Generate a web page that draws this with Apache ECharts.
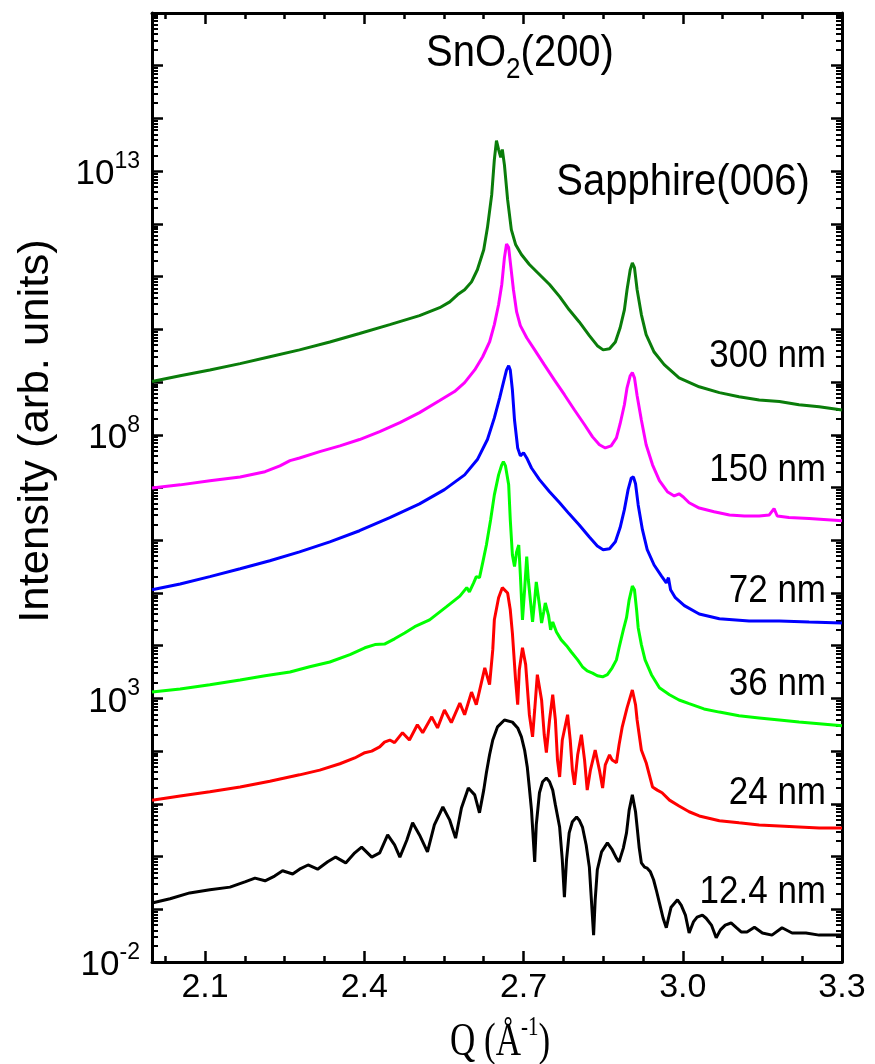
<!DOCTYPE html>
<html><head><meta charset="utf-8">
<script src="https://cdn.jsdelivr.net/npm/echarts@6/dist/echarts.min.js"></script>
<style>html,body{margin:0;padding:0;background:#fff}#c{width:875px;height:1064px}</style>
</head><body><div id="c"></div><script>
// ---- data (Q in 1/Angstrom, intensity given as log10 of arb. units) ----
var Q_300nm = [2.000,2.053,2.109,2.166,2.222,2.278,2.335,2.391,2.448,2.504,2.542,2.561,2.576,2.589,2.602,2.613,2.625,2.632,2.640,2.645,2.649,2.653,2.657,2.660,2.664,2.670,2.677,2.685,2.696,2.711,2.730,2.749,2.768,2.786,2.805,2.824,2.839,2.850,2.862,2.873,2.882,2.890,2.895,2.901,2.905,2.909,2.914,2.922,2.931,2.946,2.965,2.993,3.031,3.069,3.106,3.144,3.182,3.219,3.257,3.300];
var logI_300nm = [9.01,9.12,9.23,9.35,9.48,9.61,9.76,9.92,10.09,10.26,10.41,10.52,10.66,10.75,10.90,11.13,11.51,11.93,12.55,13.22,13.58,13.41,13.26,13.41,13.12,12.46,11.89,11.61,11.42,11.23,11.04,10.85,10.62,10.37,10.14,9.88,9.69,9.61,9.63,9.76,10.03,10.37,10.75,11.13,11.26,11.17,10.75,10.28,9.90,9.57,9.33,9.08,8.91,8.80,8.72,8.66,8.63,8.57,8.53,8.47];

var Q_150nm = [2.000,2.053,2.109,2.166,2.213,2.241,2.260,2.278,2.316,2.354,2.391,2.429,2.467,2.504,2.542,2.570,2.589,2.608,2.623,2.636,2.645,2.653,2.659,2.664,2.668,2.672,2.675,2.681,2.687,2.694,2.706,2.721,2.739,2.758,2.777,2.796,2.815,2.830,2.843,2.854,2.865,2.875,2.882,2.890,2.895,2.901,2.905,2.909,2.914,2.922,2.931,2.943,2.956,2.971,2.984,2.993,3.001,3.012,3.031,3.059,3.088,3.116,3.144,3.163,3.172,3.178,3.200,3.238,3.300];
var logI_150nm = [6.99,7.05,7.13,7.20,7.30,7.41,7.51,7.56,7.68,7.79,7.91,8.06,8.23,8.42,8.65,8.82,8.99,9.23,9.48,9.76,10.09,10.47,10.85,11.36,11.62,11.55,11.28,10.75,10.33,10.07,9.84,9.61,9.33,9.04,8.76,8.47,8.19,7.96,7.81,7.75,7.79,7.94,8.21,8.57,8.89,9.12,9.18,9.08,8.74,8.28,7.81,7.43,7.13,6.92,6.84,6.88,6.82,6.71,6.61,6.54,6.48,6.46,6.46,6.48,6.60,6.46,6.43,6.41,6.37];

var Q_72nm = [2.000,2.053,2.109,2.166,2.222,2.278,2.335,2.391,2.448,2.504,2.551,2.589,2.613,2.632,2.645,2.655,2.662,2.668,2.672,2.675,2.679,2.683,2.689,2.694,2.700,2.706,2.715,2.730,2.749,2.768,2.786,2.805,2.824,2.839,2.850,2.862,2.873,2.882,2.890,2.897,2.903,2.907,2.911,2.916,2.924,2.933,2.946,2.960,2.969,2.973,2.977,2.986,3.003,3.031,3.069,3.125,3.182,3.238,3.300];
var logI_72nm = [5.06,5.17,5.31,5.46,5.61,5.78,5.97,6.18,6.43,6.69,6.96,7.24,7.53,7.91,8.32,8.70,8.99,9.23,9.31,9.23,8.85,8.28,7.75,7.60,7.66,7.56,7.37,7.15,6.92,6.71,6.50,6.29,6.06,5.89,5.82,5.84,5.97,6.24,6.58,6.96,7.18,7.20,7.07,6.67,6.20,5.82,5.53,5.32,5.19,5.29,5.06,4.91,4.76,4.60,4.51,4.47,4.47,4.45,4.43];

var Q_36nm = [2.000,2.053,2.109,2.166,2.213,2.260,2.297,2.335,2.373,2.401,2.420,2.438,2.457,2.476,2.495,2.523,2.555,2.580,2.593,2.598,2.606,2.611,2.617,2.623,2.630,2.638,2.645,2.653,2.659,2.662,2.666,2.672,2.675,2.679,2.683,2.687,2.691,2.694,2.698,2.702,2.706,2.709,2.717,2.721,2.724,2.730,2.734,2.738,2.741,2.747,2.751,2.755,2.762,2.771,2.781,2.790,2.802,2.811,2.820,2.830,2.839,2.849,2.858,2.867,2.875,2.880,2.888,2.894,2.899,2.905,2.909,2.913,2.916,2.922,2.929,2.941,2.956,2.975,2.993,3.012,3.040,3.069,3.106,3.144,3.182,3.219,3.257,3.300];
var logI_36nm = [3.12,3.18,3.26,3.35,3.43,3.50,3.60,3.69,3.83,3.96,4.02,4.03,4.13,4.24,4.36,4.49,4.74,4.94,5.10,5.02,5.19,5.31,5.29,5.57,5.91,6.39,6.86,7.24,7.43,7.49,7.41,7.05,6.39,5.72,5.50,5.78,5.91,5.34,4.49,5.06,5.69,5.25,4.45,4.87,5.21,4.77,4.43,4.64,4.81,4.58,4.30,4.45,4.26,4.11,4.00,3.88,3.73,3.60,3.52,3.48,3.43,3.41,3.45,3.58,3.73,3.96,4.30,4.53,4.87,5.13,5.06,4.68,4.34,4.02,3.73,3.45,3.20,3.07,2.97,2.90,2.80,2.74,2.67,2.63,2.59,2.55,2.52,2.48];

var Q_24nm = [2.000,2.053,2.109,2.166,2.222,2.278,2.316,2.354,2.382,2.401,2.414,2.429,2.438,2.448,2.457,2.472,2.485,2.500,2.510,2.527,2.538,2.551,2.564,2.580,2.589,2.602,2.611,2.627,2.636,2.642,2.645,2.653,2.660,2.670,2.675,2.679,2.685,2.689,2.692,2.698,2.704,2.711,2.717,2.721,2.726,2.734,2.739,2.743,2.749,2.755,2.760,2.764,2.768,2.773,2.783,2.788,2.792,2.796,2.802,2.809,2.815,2.820,2.826,2.835,2.843,2.849,2.854,2.862,2.867,2.875,2.880,2.886,2.895,2.905,2.911,2.914,2.922,2.931,2.937,2.943,2.952,2.961,2.975,2.993,3.012,3.031,3.069,3.106,3.144,3.182,3.219,3.257,3.300];
var logI_24nm = [1.07,1.15,1.23,1.32,1.43,1.55,1.64,1.76,1.87,1.97,2.00,2.08,2.17,2.21,2.16,2.35,2.21,2.50,2.35,2.65,2.44,2.78,2.54,2.91,2.69,3.12,2.88,3.58,3.26,3.92,4.49,4.91,5.10,5.00,4.68,4.24,3.35,2.88,3.54,3.96,3.64,2.69,2.27,2.78,3.45,2.97,2.31,1.97,2.59,3.07,2.59,1.83,1.51,2.21,2.69,2.21,1.64,1.36,1.93,2.31,1.83,1.26,1.64,2.02,1.64,1.30,1.74,1.93,1.83,1.78,2.12,2.46,2.82,3.16,2.88,2.59,2.02,1.78,1.55,1.32,1.26,1.21,1.07,0.96,0.85,0.77,0.68,0.64,0.60,0.58,0.56,0.54,0.54];

var Q_12nm = [2.000,2.034,2.071,2.109,2.147,2.175,2.194,2.213,2.231,2.246,2.265,2.278,2.294,2.312,2.331,2.346,2.365,2.382,2.395,2.414,2.429,2.444,2.457,2.467,2.480,2.491,2.504,2.519,2.532,2.548,2.561,2.572,2.583,2.596,2.608,2.617,2.625,2.630,2.636,2.642,2.651,2.664,2.679,2.689,2.696,2.702,2.707,2.711,2.715,2.721,2.724,2.730,2.736,2.743,2.749,2.755,2.760,2.768,2.773,2.777,2.781,2.786,2.792,2.800,2.805,2.811,2.818,2.824,2.832,2.835,2.839,2.847,2.858,2.867,2.875,2.880,2.888,2.894,2.899,2.905,2.911,2.914,2.918,2.922,2.928,2.933,2.939,2.945,2.950,2.956,2.963,2.969,2.973,2.978,2.990,2.997,3.005,3.012,3.020,3.027,3.037,3.044,3.054,3.063,3.071,3.080,3.091,3.101,3.110,3.121,3.135,3.150,3.168,3.187,3.206,3.232,3.257,3.300];
var logI_12nm = [-0.88,-0.80,-0.69,-0.63,-0.58,-0.48,-0.41,-0.46,-0.37,-0.27,-0.33,-0.24,-0.16,-0.24,-0.10,-0.01,-0.12,0.07,0.18,-0.01,0.07,0.41,0.22,-0.01,0.31,0.64,0.41,0.09,0.60,0.94,0.69,0.35,0.92,1.30,1.17,0.83,1.26,1.59,1.93,2.21,2.46,2.59,2.55,2.44,2.27,2.02,1.70,1.30,0.88,-0.10,0.60,1.21,1.42,1.49,1.42,1.26,0.98,0.56,-0.06,-0.77,-0.06,0.45,0.66,0.75,0.69,0.56,0.22,-0.20,-1.49,-0.82,-0.25,0.09,0.26,0.13,-0.03,-0.10,0.16,0.45,0.88,1.17,0.85,0.56,0.16,-0.12,-0.20,-0.22,-0.29,-0.44,-0.63,-0.88,-1.17,-1.35,-1.17,-0.96,-0.82,-0.92,-1.11,-1.45,-1.24,-1.15,-1.11,-1.17,-1.30,-1.54,-1.39,-1.30,-1.26,-1.35,-1.43,-1.43,-1.34,-1.45,-1.49,-1.35,-1.45,-1.45,-1.49,-1.49];

var seriesNames = ['300 nm','150 nm','72 nm','36 nm','24 nm','12.4 nm'];
var seriesColors = ['#0a7d0a','#ff00ff','#0000ff','#00ff00','#ff0000','#000000'];
var xMajorTicks = [2.1, 2.4, 2.7, 3.0, 3.3];
var xMinorTicks = [2.025, 2.175, 2.25, 2.325, 2.475, 2.55, 2.625, 2.775, 2.85, 2.925, 3.075, 3.15, 3.225];
var yLabelExponents = [-2, 3, 8, 13];

var Qs = [Q_300nm, Q_150nm, Q_72nm, Q_36nm, Q_24nm, Q_12nm];
var Ls = [logI_300nm, logI_150nm, logI_72nm, logI_36nm, logI_24nm, logI_12nm];

var chart = echarts.init(document.getElementById('c'), null, {renderer: 'canvas'});
var FONT = '"Liberation Sans", Arial, sans-serif';
var SERIF = '"Liberation Serif", "Times New Roman", serif';

function xAxisDef(pos, ticks, len, showLabel, showLine) {
  return {
    type: 'value', position: pos, min: 2.0, max: 3.3,
    axisLine: {show: showLine, onZero: false, lineStyle: {color: '#000', width: 3}},
    axisTick: {show: true, inside: true, length: len, customValues: ticks, lineStyle: {color: '#000', width: 2.5}},
    axisLabel: {show: showLabel, customValues: ticks, margin: 9, color: '#000', fontSize: 34, fontFamily: FONT,
      formatter: function (v) { return v.toFixed(1); }},
    splitLine: {show: false}
  };
}
function yAxisDef(pos, showLabel) {
  return {
    type: 'log', logBase: 10, position: pos, min: 1e-2, max: 1e16, interval: 1,
    axisLine: {show: true, onZero: false, lineStyle: {color: '#000', width: 3}},
    axisTick: {show: true, inside: true, length: 11, lineStyle: {color: '#000', width: 2.5}},
    minorTick: {show: true, splitNumber: 9, length: 6, lineStyle: {color: '#000', width: 2}},
    axisLabel: {show: showLabel, margin: 12, color: '#000', fontFamily: FONT,
      formatter: function (v) {
        var e = Math.round(Math.log10(v));
        if (yLabelExponents.indexOf(e) < 0) return '';
        return '{b|10}{s|' + e + '}';
      },
      rich: {
        b: {fontSize: 35, fontFamily: FONT, color: '#000', lineHeight: 42, verticalAlign: 'bottom'},
        s: {fontSize: 23, fontFamily: FONT, color: '#000', lineHeight: 24, verticalAlign: 'top'}
      }},
    splitLine: {show: false}
  };
}

var series = Qs.map(function (q, k) {
  return {
    name: seriesNames[k], type: 'line', xAxisIndex: 0, yAxisIndex: 0,
    showSymbol: false, symbol: 'none', smooth: false, clip: true,
    lineStyle: {color: seriesColors[k], width: 3},
    data: q.map(function (x, i) { return [x, Math.pow(10, Ls[k][i])]; })
  };
});

function label(text, x, y, size) {
  return {type: 'text', x: x, y: y, scaleY: 1.12,
    style: {text: text, font: size + 'px ' + FONT, fill: '#000', textAlign: 'right', textVerticalAlign: 'middle'}};
}

var option = {
  animation: false,
  backgroundColor: '#fff',
  grid: {left: 152, right: 33, top: 13, bottom: 102, containLabel: false},
  xAxis: [
    xAxisDef('bottom', xMajorTicks, 11, true, true),
    xAxisDef('top', xMajorTicks, 11, false, true),
    xAxisDef('bottom', xMinorTicks, 6, false, false),
    xAxisDef('top', xMinorTicks, 6, false, false)
  ],
  yAxis: [yAxisDef('left', true), yAxisDef('right', false)],
  series: series,
  graphic: [
    {type: 'text', x: 36, y: 431, rotation: Math.PI / 2, scaleX: 1.04,
      style: {text: 'Intensity (arb. units)', font: '42px ' + FONT, fill: '#000', textAlign: 'center', textVerticalAlign: 'middle'}},
    {type: 'text', x: 500, y: 1040, scaleY: 1.3,
      style: {text: '{n|Q (Å}{s|-1}{n|)}', fill: '#000', textAlign: 'center', textVerticalAlign: 'middle',
        rich: {n: {fontSize: 35, fontFamily: SERIF, lineHeight: 40, verticalAlign: 'bottom'},
               s: {fontSize: 21, fontFamily: SERIF, lineHeight: 22, verticalAlign: 'top'}}}},
    {type: 'text', x: 520, y: 58, scaleY: 1.1,
      style: {text: '{n|SnO}{d|2}{n|(200)}', fill: '#000', textAlign: 'center', textVerticalAlign: 'middle',
        rich: {n: {fontSize: 40, fontFamily: FONT, lineHeight: 48, verticalAlign: 'top'},
               d: {fontSize: 26, fontFamily: FONT, lineHeight: 28, verticalAlign: 'bottom'}}}},
    {type: 'text', x: 683, y: 183, scaleY: 1.1,
      style: {text: 'Sapphire(006)', font: '40px ' + FONT, fill: '#000', textAlign: 'center', textVerticalAlign: 'middle'}},
    label(seriesNames[0], 826, 356, 35),
    label(seriesNames[1], 826, 470, 35),
    label(seriesNames[2], 826, 591, 35),
    label(seriesNames[3], 826, 684, 35),
    label(seriesNames[4], 826, 793, 35),
    label(seriesNames[5], 826, 892, 35)
  ]
};
chart.setOption(option);
</script></body></html>
